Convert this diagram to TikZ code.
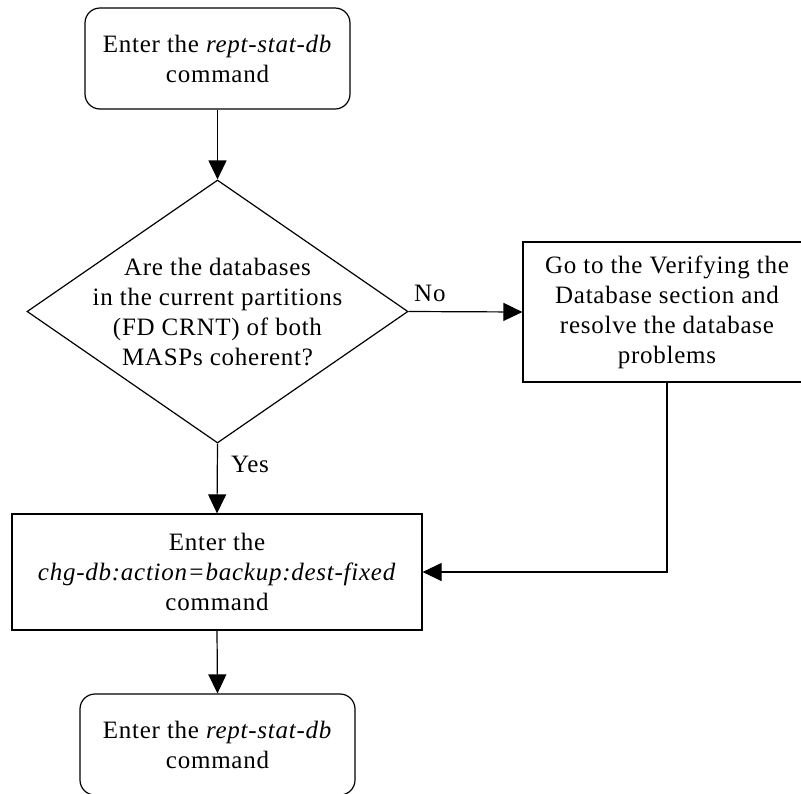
\documentclass[tikz,border=0pt]{standalone}
\usepackage{fontspec}
\setmainfont{Liberation Serif}[LetterSpace=3]
\usetikzlibrary{shapes.geometric,arrows.meta}

\begin{document}
\begin{tikzpicture}[x=1pt,y=-1pt,
  every node/.style={font=\fontsize{25}{30}\selectfont, align=center},
  box/.style={draw, line width=1.2pt, inner sep=0pt},
  termbox/.style={box, rounded corners=15pt},
  decision/.style={draw, line width=1.2pt, shape=diamond, inner sep=0pt},
  flow/.style={line width=1.2pt, -{Triangle[length=19pt,width=18pt]}},
  tag/.style={anchor=base west, inner sep=0pt}
]
\useasboundingbox (0,0) rectangle (801,793);

% steps
\node[termbox, minimum width=265pt, minimum height=101pt] (start) at (217.5,58.5)
  {Enter the \textit{rept-stat-db}\\command};
\node[decision, minimum width=381pt, minimum height=263pt,
      label={[align=center]center:Are the databases\\in the current partitions\\(FD CRNT) of both\\MASPs coherent?}]
  (check) at (217.5,311.5) {};
\node[box, minimum width=288pt, minimum height=140pt] (fix) at (667,312)
  {Go to the Verifying the\\Database section and\\resolve the database\\problems};
\node[box, minimum width=410pt, minimum height=116pt] (backup) at (217,572)
  {Enter the\\\textit{chg-db:action=backup:dest-fixed}\\command};
\node[termbox, minimum width=275pt, minimum height=101pt] (finish) at (217.5,744.5)
  {Enter the \textit{rept-stat-db}\\command};

% connectors
\draw[flow] (start.south) -- (check.north);
\draw[flow] (check.east) -- node[tag, pos=0, xshift=5pt, yshift=10pt] {No} (fix.west);
\draw[flow] (check.south) -- node[tag, pos=0, xshift=13pt, yshift=-29pt] {Yes} (backup.north);
\draw[flow] (fix.south) |- (backup.east);
\draw[flow] (backup.south) -- (finish.north);
\end{tikzpicture}
\end{document}
